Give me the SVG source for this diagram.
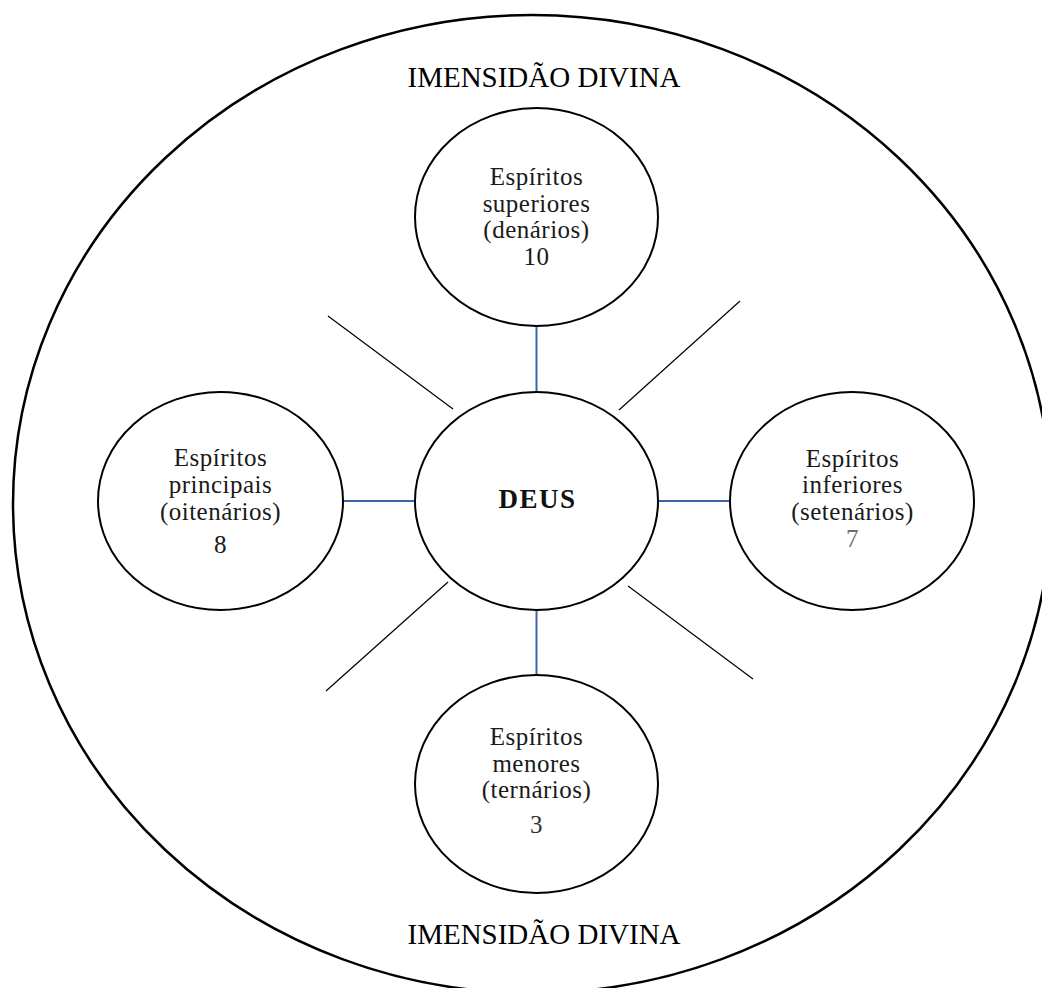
<svg xmlns="http://www.w3.org/2000/svg" width="1042" height="988" viewBox="0 0 1042 988">
<style>
.bg{fill:#ffffff}
.outer{fill:none;stroke:#000;stroke-width:2.5}
.node{fill:#fff;stroke:#000;stroke-width:2}
.blue{stroke:#3c64ad;stroke-width:2;fill:none}
.ray{stroke:#000;stroke-width:1.2;fill:none}
.t{font-family:"Liberation Serif","Times New Roman",serif;font-size:25px;fill:#1a1a1a;text-anchor:middle;letter-spacing:0.5px}
.title{font-family:"Liberation Serif","Times New Roman",serif;font-size:29px;fill:#000;text-anchor:middle}
.deus{font-family:"Liberation Serif","Times New Roman",serif;font-size:27px;font-weight:bold;fill:#111;text-anchor:middle;letter-spacing:1.5px}
.gray{fill:#6e6e6e}
</style>
<rect class="bg" x="0" y="0" width="1042" height="988"/>
<g id="immensity">
<ellipse class="outer" cx="532" cy="504" rx="519" ry="489"/>
<text class="title" x="544" y="87">IMENSIDÃO DIVINA</text>
<text class="title" x="544" y="944">IMENSIDÃO DIVINA</text>
</g>
<g id="connectors">
<line class="blue" x1="536.5" y1="326" x2="536.5" y2="392"/>
<line class="blue" x1="536.5" y1="610" x2="536.5" y2="675"/>
<line class="blue" x1="343" y1="501" x2="415" y2="501"/>
<line class="blue" x1="658" y1="501" x2="730" y2="501"/>
<line class="ray" x1="328" y1="316" x2="453" y2="409"/>
<line class="ray" x1="740" y1="301" x2="619" y2="410"/>
<line class="ray" x1="448" y1="582" x2="326" y2="691"/>
<line class="ray" x1="628" y1="586" x2="753" y2="679"/>
</g>
<g id="deus">
<ellipse class="node" cx="536.5" cy="501" rx="121.5" ry="109"/>
<text class="deus" x="537.5" y="508">DEUS</text>
</g>
<g id="superiores">
<ellipse class="node" cx="536.5" cy="217" rx="121.5" ry="109"/>
<text class="t" x="536.5" y="185">Espíritos</text>
<text class="t" x="536.5" y="212">superiores</text>
<text class="t" x="536.5" y="238">(denários)</text>
<text class="t" x="536.5" y="265">10</text>
</g>
<g id="principais">
<ellipse class="node" cx="220.5" cy="501" rx="122.5" ry="109"/>
<text class="t" x="220.5" y="466">Espíritos</text>
<text class="t" x="220.5" y="493">principais</text>
<text class="t" x="220.5" y="520">(oitenários)</text>
<text class="t" x="220.5" y="553">8</text>
</g>
<g id="inferiores">
<ellipse class="node" cx="852" cy="501" rx="122" ry="109"/>
<text class="t" x="852.5" y="467">Espíritos</text>
<text class="t" x="852.5" y="493">inferiores</text>
<text class="t" x="852.5" y="520">(setenários)</text>
<text class="t gray" x="852.5" y="547">7</text>
</g>
<g id="menores">
<ellipse class="node" cx="536.5" cy="784" rx="121.5" ry="109"/>
<text class="t" x="536.5" y="745">Espíritos</text>
<text class="t" x="536.5" y="772">menores</text>
<text class="t" x="536.5" y="798">(ternários)</text>
<text class="t" x="536.5" y="833" style="fill:#333">3</text>
</g>
</svg>
